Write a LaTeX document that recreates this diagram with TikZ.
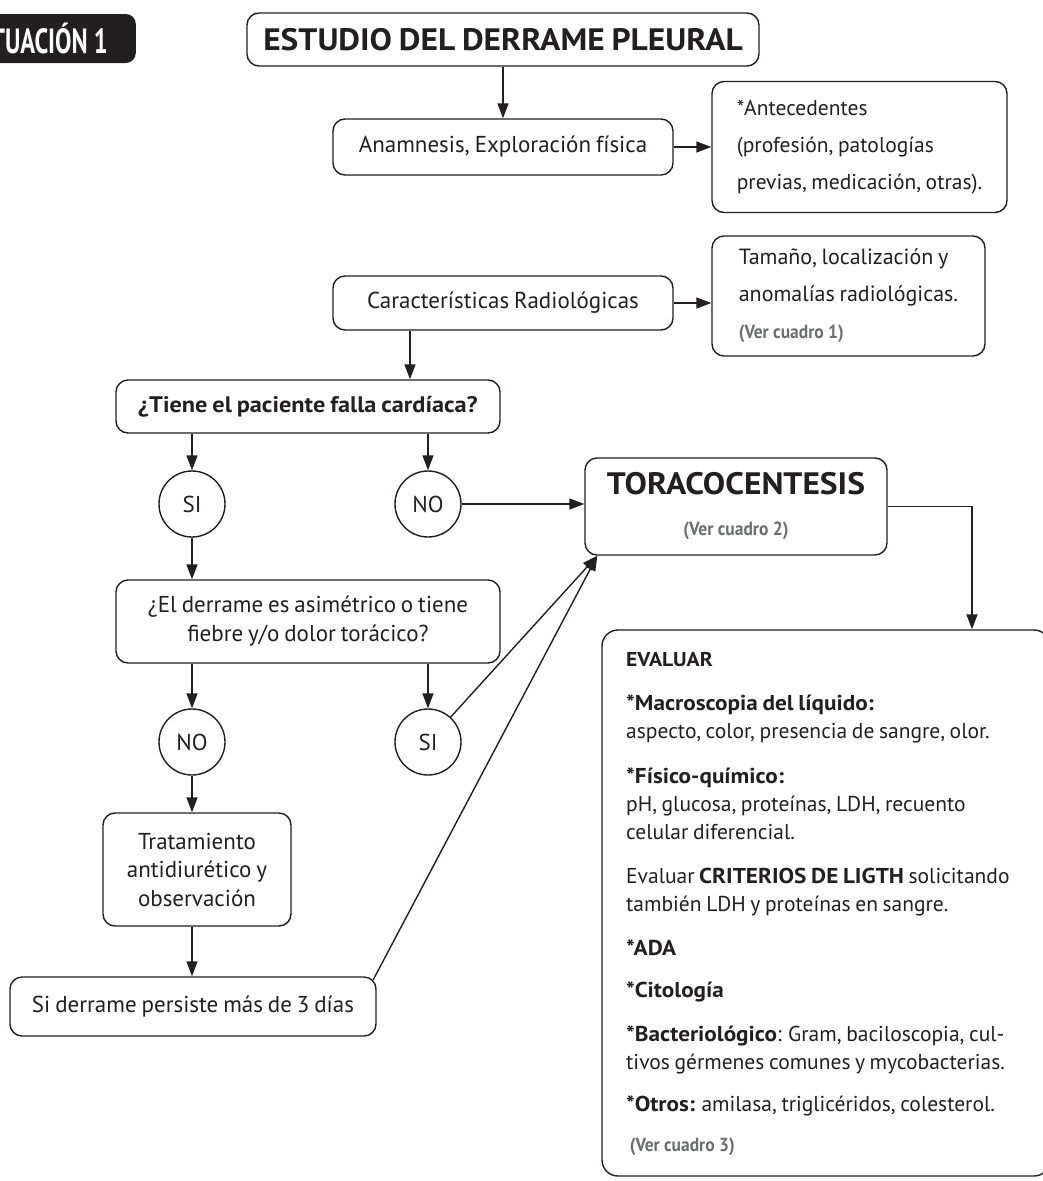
\documentclass[tikz,border=0pt]{standalone}
\usepackage{fontspec}
\setmainfont{PT Sans}[WordSpace=0.8, BoldFeatures={FakeStretch=1.08}]
\newfontfamily\condfont{PT Sans}[FakeStretch=0.92]
\newfontfamily\tabfont{PT Sans}[FakeStretch=0.7]
\usetikzlibrary{arrows.meta,calc}
\definecolor{ink}{HTML}{231F20}
\definecolor{refgray}{HTML}{6D6E71}
\newcommand\regtext{\fontsize{23}{29}\selectfont}
\newcommand\cuadro[1]{{\condfont\bfseries\fontsize{19}{19}\selectfont\color{refgray}#1}}

\begin{document}
\begin{tikzpicture}[x=1pt,y=-1pt,
  box/.style={draw=ink, line width=1.4pt, rounded corners=12pt, inner sep=0pt,
    align=center, text=ink, font=\regtext},
  bubble/.style={draw=ink, line width=1.4pt, circle, minimum size=66pt, inner sep=0pt,
    text=ink, font=\fontsize{23}{23}\selectfont},
  tabbox/.style={fill=ink, rounded corners=10pt, minimum height=49pt, inner xsep=28pt,
    inner ysep=0pt, text=white, font=\tabfont\bfseries\fontsize{35}{35}\selectfont},
  arr/.style={draw=ink, line width=1.4pt, -{Triangle[length=15pt,width=11pt]}}]
\useasboundingbox (0,0) rectangle (1043,1181);

% header tab and title
\node[tabbox, anchor=east] (tab) at (136,38.5) {SITUACIÓN 1};
\node[box, minimum width=512pt, minimum height=53pt,
  font=\bfseries\fontsize{31}{31}\selectfont] (title) at (503,39.5) {ESTUDIO DEL DERRAME PLEURAL};

% first steps
\node[box, minimum width=340pt, minimum height=56pt] (anam) at (503,147) {Anamnesis, Exploración física};
\node[box, minimum width=295pt, minimum height=131pt, align=left,
  font=\fontsize{21.5}{37}\selectfont] (antec) at (859.5,147)
  {*Antecedentes\\(profesión, patologías\\previas, medicación, otras).};
\node[box, minimum width=340pt, minimum height=54pt] (carac) at (503,303) {Características Radiológicas};
\node[box, minimum width=273pt, minimum height=120pt, align=left,
  font=\fontsize{22}{37}\selectfont] (tam) at (848.5,296)
  {Tamaño, localización y\\anomalías radiológicas.\\\cuadro{(Ver cuadro 1)}};

% decisions
\node[box, minimum width=384pt, minimum height=53pt,
  font=\bfseries\fontsize{22.5}{26}\selectfont] (tiene) at (308,406.5) {¿Tiene el paciente falla cardíaca?};
\node[bubble] (si1) at (192,504) {SI};
\node[bubble] (no1) at (428,504) {NO};
\node[box, minimum width=302pt, minimum height=97pt, font=\fontsize{31}{41}\selectfont]
  (toraco) at (736,506.5) {\textbf{TORACOCENTESIS}\\\cuadro{(Ver cuadro 2)}};
\node[box, minimum width=384pt, minimum height=83pt] (derr) at (308,621.5)
  {¿El derrame es asimétrico o tiene\\fiebre y/o dolor torácico?};
\node[bubble] (no2) at (192,742) {NO};
\node[bubble] (si2) at (428,742) {SI};
\node[box, minimum width=188pt, minimum height=113pt, font=\fontsize{23}{28.5}\selectfont]
  (trat) at (197,869.5) {Tratamiento\\antidiurético y\\observación};
\node[box, minimum width=366pt, minimum height=59pt] (sider) at (193,1006.5) {Si derrame persiste más de 3 días};

% evaluation panel
\node[box, rounded corners=16pt, minimum width=448pt, minimum height=546pt] (eval) at (826,903) {};
\node[anchor=north west, inner sep=0pt, align=left, text=ink,
  font=\fontsize{21.5}{28}\selectfont] (evtext) at (626,652)
  {{\fontsize{20}{28}\selectfont\textbf{EVALUAR}}\\[16pt]
   \textbf{*Macroscopia del líquido:}\\
   aspecto, color, presencia de sangre, olor.\\[17pt]
   \textbf{*Físico-químico:}\\
   pH, glucosa, proteínas, LDH, recuento\\
   celular diferencial.\\[16pt]
   Evaluar \textbf{CRITERIOS DE LIGTH} solicitando\\
   también LDH y proteínas en sangre.\\[16pt]
   \textbf{*ADA}\\[14pt]
   \textbf{*Citología}\\[16pt]
   \textbf{*Bacteriológico}: Gram, baciloscopia, cul-\\
   tivos gérmenes comunes y mycobacterias.\\[14pt]
   \textbf{*Otros:} amilasa, triglicéridos, colesterol.\\[12pt]
   \,\cuadro{(Ver cuadro 3)}};

% connectors
\draw[arr] (title) -- (anam);
\draw[arr] (anam) -- (antec);
\draw[arr] (carac.east) -- (carac.east -| tam.west);
\draw[arr] ([xshift=-93pt]carac.south) -- ([xshift=-93pt]carac.south |- tiene.north);
\draw[arr] (si1 |- tiene.south) -- (si1);
\draw[arr] (no1 |- tiene.south) -- (no1);
\draw[arr] (no1) -- (no1 -| toraco.west);
\draw[arr] (si1) -- (si1 |- derr.north);
\draw[arr] (no2 |- derr.south) -- (no2);
\draw[arr] (si2 |- derr.south) -- (si2);
\draw[arr] (no2) -- (no2 |- trat.north);
\draw[arr] (no2 |- trat.south) -- (no2 |- sider.north);
\coordinate (tin) at ($(toraco.south west)+(13,0)$);
\draw[arr] (si2) -- (tin);
\draw[arr] ($(sider.north east)+(-3.5,3.5)$) -- (tin);
\draw[arr] (toraco.east) -| ([xshift=146pt]eval.north);
\end{tikzpicture}
\end{document}
